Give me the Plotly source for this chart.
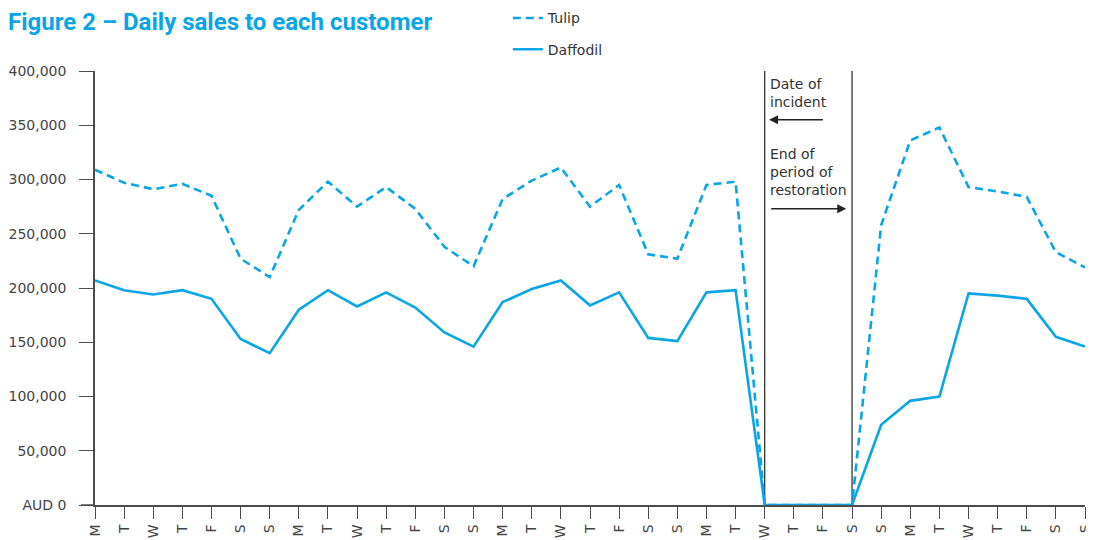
import plotly.graph_objects as go

days = ["M", "T", "W", "T", "F", "S", "S"] * 5
tulip = [309000, 297000, 291000, 296000, 285000, 227000, 210000,
         272000, 298000, 275000, 293000, 273000, 238000, 220000,
         282000, 299000, 311000, 275000, 295000, 231000, 227000,
         295000, 298000, 0, 0, 0, 0, 258000,
         336000, 348000, 293000, 289000, 284000, 233000, 219000]
daffodil = [207000, 198000, 194000, 198000, 190000, 153000, 140000,
            180000, 198000, 183000, 196000, 182000, 159000, 146000,
            187000, 199000, 207000, 184000, 196000, 154000, 151000,
            196000, 198000, 0, 0, 0, 0, 74000,
            96000, 100000, 195000, 193000, 190000, 155000, 146000]
y_ticks = [0, 50000, 100000, 150000, 200000, 250000, 300000, 350000, 400000]
y_tick_labels = ["AUD 0", "50,000", "100,000", "150,000", "200,000",
                 "250,000", "300,000", "350,000", "400,000"]

x = list(range(len(days)))
zero_idx = [i for i, v in enumerate(tulip) if v == 0]
incident_idx = zero_idx[0]
restore_idx = zero_idx[-1]

BLUE = "#0AA5E6"
GREY = "#444444"
FONT = "DejaVu Sans"
AXIS = "#4d4d4d"

fig = go.Figure()
fig.add_trace(go.Scatter(x=x, y=tulip, name="Tulip", mode="lines",
                         line=dict(color=BLUE, width=2.6, dash="8px,5px"),
                         legendgroup="a"))
fig.add_trace(go.Scatter(x=x, y=daffodil, name="Daffodil", mode="lines",
                         line=dict(color=BLUE, width=2.6),
                         legendgroup="b"))

for xi in (incident_idx, restore_idx):
    fig.add_shape(type="line", xref="x", yref="y", x0=xi, x1=xi, y0=0, y1=400000,
                  line=dict(color="#222222", width=1.2), layer="below")

# extend x-axis line to the left under y ticks
fig.add_shape(type="line", xref="paper", yref="y", x0=-0.0142, x1=0, y0=0, y1=0,
              line=dict(color=AXIS, width=1.5))

fig.add_annotation(x=incident_idx + 0.1, y=397000, xref="x", yref="y",
                   text="Date of<br>incident", showarrow=False, xanchor="left",
                   yanchor="top", align="left",
                   font=dict(family=FONT, size=14, color="#333333"))
fig.add_annotation(x=incident_idx + 0.15, y=355000, ax=incident_idx + 2.05, ay=355000,
                   xref="x", yref="y", axref="x", ayref="y", text="",
                   showarrow=True, arrowhead=2, arrowsize=1.2, arrowwidth=1.5,
                   arrowcolor="#222222")
fig.add_annotation(x=incident_idx + 0.1, y=333000, xref="x", yref="y",
                   text="End of<br>period of<br>restoration", showarrow=False,
                   xanchor="left", yanchor="top", align="left",
                   font=dict(family=FONT, size=14, color="#333333"))
fig.add_annotation(x=restore_idx - 0.2, y=273000, ax=incident_idx + 0.17, ay=273000,
                   xref="x", yref="y", axref="x", ayref="y", text="",
                   showarrow=True, arrowhead=2, arrowsize=1.2, arrowwidth=1.5,
                   arrowcolor="#222222")

# page body has an 8px margin, so the figure is sized to fit the window
fig.update_layout(
    width=1086, height=532,
    margin=dict(l=87, r=9, t=63, b=35, autoexpand=False),
    paper_bgcolor="white", plot_bgcolor="white",
    font=dict(family=FONT, color=GREY, size=14),
    title=dict(text="<b>Figure 2 – Daily sales to each customer</b>",
               x=0.0, xanchor="left", y=0.99, yanchor="top",
               font=dict(family="Roboto", size=24, color=BLUE)),
    legend=dict(x=0.417, y=1.158, xanchor="left", yanchor="top",
                font=dict(family=FONT, size=14, color="#333333"),
                tracegroupgap=10, itemwidth=30, bgcolor="rgba(0,0,0,0)"),
    showlegend=True,
)
fig.update_xaxes(range=[0, len(days) - 1], tickvals=x, ticktext=days,
                 tickangle=-90, ticks="outside", ticklen=12, tickcolor=AXIS,
                 showline=True, linecolor=AXIS, linewidth=1.5,
                 showgrid=False, zeroline=False,
                 tickfont=dict(family=FONT, size=14, color=GREY))
fig.update_yaxes(range=[0, 400000], tickvals=y_ticks, ticktext=y_tick_labels,
                 ticks="outside", ticklen=14, tickcolor=AXIS,
                 showline=True, linecolor=AXIS, linewidth=1.5,
                 showgrid=False, zeroline=False, ticklabelstandoff=10,
                 tickfont=dict(family=FONT, size=14, color=GREY))

fig.write_html("out.html")
